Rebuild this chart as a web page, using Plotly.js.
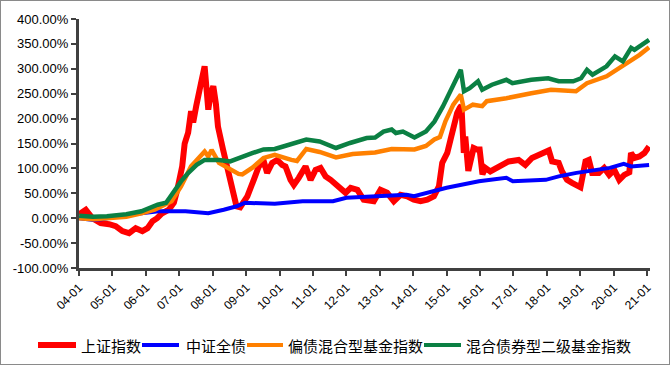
<!DOCTYPE html>
<html>
<head>
<meta charset="utf-8">
<script src="https://cdn.plot.ly/plotly-3.0.1.min.js"></script>
<style>
html,body{margin:0;padding:0;background:#fff;}
#wrap{position:relative;width:670px;height:365px;}
#chart{width:670px;height:365px;}
#frame{position:absolute;left:0;top:0;width:670px;height:365px;box-sizing:border-box;border:1px solid #8a8a8a;pointer-events:none;}
</style>
</head>
<body>
<div id="wrap"><div id="chart"></div><div id="frame"></div></div>
<script>
// ---- data (values in %) ----
const seriesNames = ['上证指数', '中证全债', '偏债混合型基金指数', '混合债券型二级基金指数'];

const shDates = ['2004-01-02','2004-03-15','2004-05-26','2004-08-25','2004-11-25','2005-02-05','2005-04-19','2005-07-01','2005-09-12','2005-11-24','2006-01-19','2006-03-14','2006-05-04','2006-06-28','2006-09-09','2006-11-03','2006-12-10','2007-02-02','2007-03-01','2007-04-08','2007-05-10','2007-06-02','2007-07-05','2007-07-27','2007-08-25','2007-10-05','2007-10-20','2007-10-27','2007-11-14','2007-12-10','2008-01-08','2008-02-05','2008-02-28','2008-04-23','2008-06-17','2008-08-11','2008-09-17','2008-10-28','2008-11-10','2009-01-14','2009-03-25','2009-05-19','2009-07-13','2009-08-18','2009-10-12','2009-12-06','2010-01-30','2010-03-07','2010-05-01','2010-06-06','2010-07-30','2010-10-12','2010-12-06','2011-01-30','2011-03-25','2011-05-19','2011-07-13','2011-09-06','2011-10-31','2011-12-24','2012-02-17','2012-05-01','2012-07-09','2012-09-02','2012-10-27','2013-01-08','2013-03-22','2013-06-03','2013-08-15','2013-10-27','2014-01-08','2014-03-22','2014-06-03','2014-08-15','2014-10-09','2014-11-14','2015-01-08','2015-02-13','2015-03-18','2015-04-26','2015-05-26','2015-06-12','2015-07-08','2015-07-24','2015-08-26','2015-10-23','2015-11-29','2015-12-28','2016-01-28','2016-02-28','2016-04-22','2016-07-22','2016-11-09','2017-02-26','2017-05-10','2017-07-22','2017-10-03','2017-12-16','2018-01-22','2018-02-27','2018-05-10','2018-06-15','2018-08-09','2018-10-03','2018-11-27','2019-01-03','2019-02-27','2019-04-05','2019-05-11','2019-07-23','2019-09-19','2019-11-13','2020-01-07','2020-03-02','2020-04-26','2020-06-20','2020-07-08','2020-08-14','2020-10-08','2020-12-02','2021-01-22'];
const shValues = [8,17,0,-10,-12,-16,-26,-30,-20,-26,-20,-6,0,10,17,31,57,104,150,172,215,192,225,252,270,305,280,272,218,250,265,230,184,138,97,51,24,22,26,44,77,104,114,91,111,117,107,104,77,67,81,104,77,97,101,84,77,67,57,51,61,57,37,34,34,57,51,34,47,44,37,34,37,44,64,111,131,158,184,211,222,226,131,164,95,141,138,138,88,101,94,104,114,117,107,121,128,134,136,114,111,94,77,71,64,62,114,117,91,91,101,87,97,77,87,92,131,121,124,131,144];

const bondDates = ['2004-01-02','2004-05-18','2004-09-05','2005-03-03','2005-11-13','2006-05-20','2007-03-10','2007-11-14','2008-05-01','2008-09-20','2008-12-20','2009-11-10','2010-09-10','2011-08-08','2012-01-01','2012-11-01','2013-05-01','2013-10-20','2014-01-10','2014-10-01','2015-01-01','2015-12-20','2016-10-15','2016-12-25','2017-12-20','2018-05-10','2018-11-20','2019-11-20','2020-04-20','2020-07-10','2021-01-22'];
const bondValues = [0,-3,-2,4,10,14,14,10,17,24,31,29,34,34,41,44,47,47,44,57,61,74,81,74,77,84,91,101,109,104,107];

const mixDates = ['2004-01-02','2004-06-01','2004-11-01','2005-06-01','2005-11-13','2006-04-08','2006-10-08','2007-01-20','2007-05-10','2007-08-10','2007-10-05','2007-11-14','2007-12-20','2008-03-10','2008-07-10','2008-10-10','2008-11-20','2009-03-15','2009-07-10','2009-11-10','2010-05-10','2010-07-10','2010-10-20','2011-03-15','2011-09-10','2012-03-10','2012-11-10','2013-05-10','2014-01-15','2014-05-20','2014-08-20','2014-10-20','2014-12-20','2015-03-15','2015-06-05','2015-07-10','2015-10-15','2016-01-25','2016-03-15','2016-10-15','2017-07-15','2018-02-15','2018-11-15','2019-03-15','2019-10-15','2020-03-10','2020-07-10','2020-10-10','2021-01-22'];
const mixValues = [0,-2,0,3,10,17,34,64,104,124,134,124,137,111,97,89,88,102,121,127,117,115,139,133,122,129,132,139,138,145,158,163,195,228,248,218,228,225,235,241,251,258,255,271,285,302,318,328,343];

const hybDates = ['2004-01-02','2004-06-01','2004-11-01','2005-06-01','2005-11-13','2006-05-10','2006-08-10','2006-11-10','2007-01-20','2007-04-10','2007-07-10','2007-10-05','2008-03-10','2008-07-10','2008-11-20','2009-03-15','2009-07-10','2009-11-10','2010-02-10','2010-06-10','2010-10-20','2011-03-15','2011-09-10','2012-02-10','2012-08-10','2012-11-10','2013-02-10','2013-05-10','2013-06-25','2013-09-10','2014-01-15','2014-05-20','2014-08-20','2014-11-20','2015-02-20','2015-04-20','2015-06-05','2015-07-10','2015-09-10','2015-12-10','2016-01-25','2016-05-10','2016-10-15','2016-12-20','2017-07-15','2018-01-15','2018-05-10','2018-10-15','2019-01-10','2019-03-15','2019-05-15','2019-10-15','2020-01-15','2020-04-10','2020-07-10','2020-08-15','2020-10-15','2021-01-22'];
const hybValues = [5,3,4,8,14,27,31,57,74,91,107,117,117,114,124,131,138,139,144,151,158,154,141,151,161,162,174,178,171,174,162,174,194,224,258,278,298,255,261,275,258,268,278,271,278,281,275,275,281,298,288,305,325,315,342,338,345,358];

const yTickVals = [-100,-50,0,50,100,150,200,250,300,350,400];
const yTickText = ['-100.00%','-50.00%','0.00%','50.00%','100.00%','150.00%','200.00%','250.00%','300.00%','350.00%','400.00%'];

const colors = ['#ff0000','#0000ff','#ff8000','#0b8043'];
const widths = [6,4,4.5,4.5];

const traces = [
  {x: shDates, y: shValues},
  {x: bondDates, y: bondValues},
  {x: mixDates, y: mixValues},
  {x: hybDates, y: hybValues}
].map((d,i)=>({
  type:'scatter', mode:'lines', x:d.x, y:d.y, name:seriesNames[i],
  line:{color:colors[i], width:widths[i]}
}));

// ---- manual legend (pixel layout converted to paper coords) ----
const W = 670, H = 365, ML = 79, MR = 20, MT = 19, MB = 97;
const PW = W - ML - MR, PH = H - MT - MB;
const px = v => (v - ML) / PW;
const py = v => (H - MB - v) / PH;
const legY = 345;
const legLine = [[38,76],[142,179],[247,283],[424,461]];
const legText = [79,184,286,464];
const legWidth = [6,4,4,4];
const shapes = legLine.map((s,i)=>({type:'line', xref:'paper', yref:'paper',
  x0:px(s[0]), x1:px(s[1]), y0:py(legY), y1:py(legY),
  line:{color:colors[i], width:legWidth[i]}}));
const annotations = legText.map((t,i)=>({xref:'paper', yref:'paper', x:px(t), y:py(legY),
  xanchor:'left', yanchor:'middle', text:seriesNames[i], showarrow:false,
  font:{family:'Noto Sans CJK SC', size:15, color:'#000'}}));

const axisColor = '#404040';
const layout = {
  width:W, height:H,
  margin:{l:ML, r:MR, t:MT, b:MB},
  paper_bgcolor:'#ffffff', plot_bgcolor:'#ffffff',
  showlegend:false,
  shapes, annotations,
  xaxis:{type:'date', range:['2004-01-01','2021-02-01'], tick0:'2004-01-01', dtick:'M12', tickformat:'%y-%m',
         tickangle:-45, showgrid:false, zeroline:false, showline:true, linecolor:axisColor, linewidth:3,
         ticks:'outside', ticklen:5, tickwidth:2, tickcolor:axisColor,
         tickfont:{family:'Liberation Sans, Arial', size:12, color:'#000'}},
  yaxis:{range:[-100,400], tickvals:yTickVals, ticktext:yTickText, showgrid:false, zeroline:false,
         showline:true, linecolor:axisColor, linewidth:3, ticks:'outside', ticklen:5, tickwidth:2, tickcolor:axisColor,
         tickfont:{family:'Liberation Sans, Arial', size:13, color:'#000'}}
};
Plotly.newPlot('chart', traces, layout, {displayModeBar:false, staticPlot:true});
</script>
</body>
</html>
